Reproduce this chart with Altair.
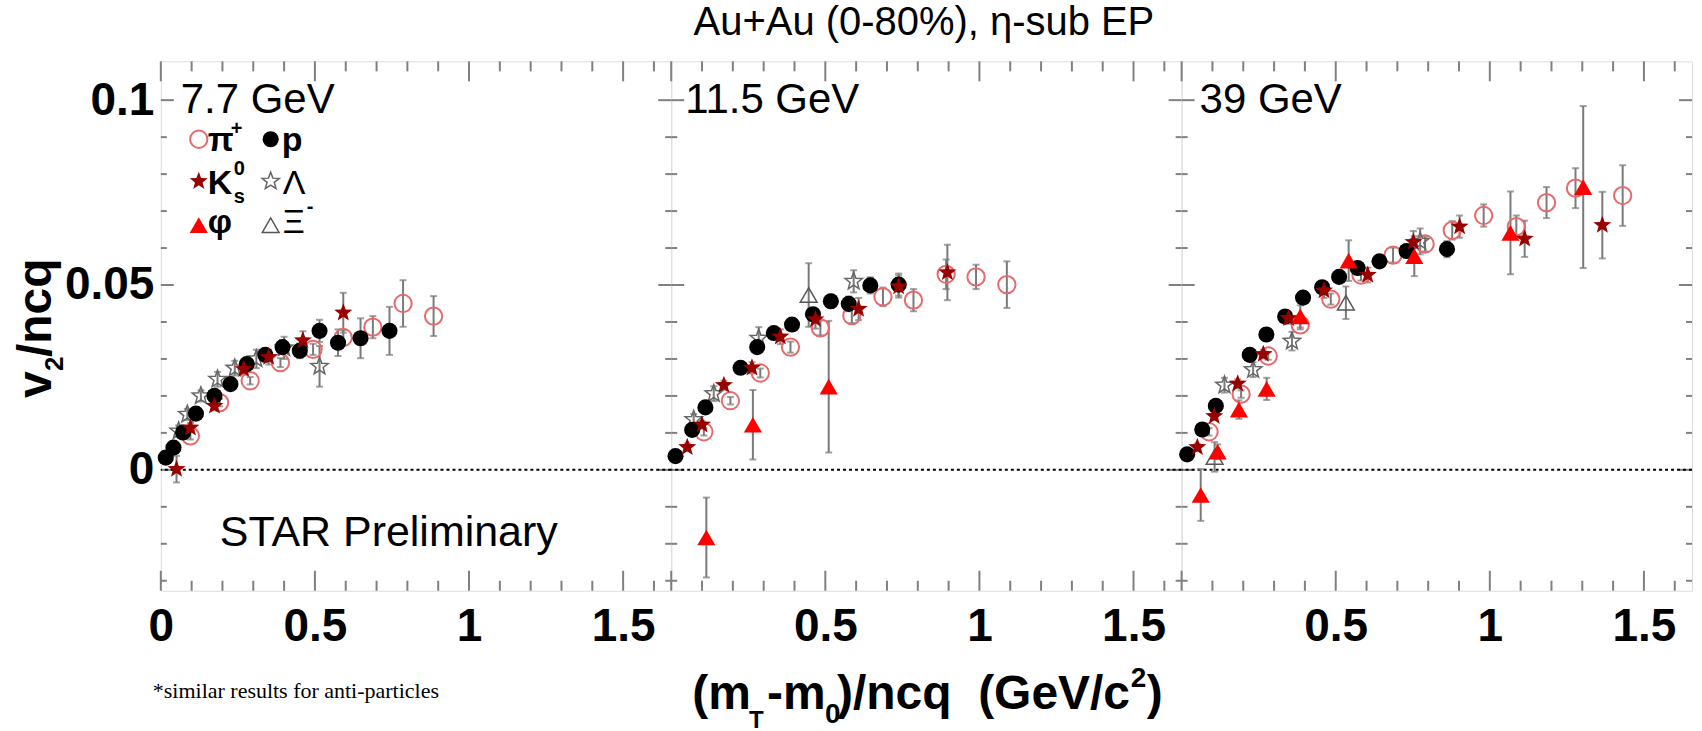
import math
import altair as alt
import pandas as pd

# ---------------------------------------------------------------- layout
W, H = 511, 530                      # plot area of one energy panel
X_DOMAIN = [0.0, 1.656]
Y_DOMAIN = [-0.0327, 0.1105]

X_MAJOR = [0.0, 0.5, 1.0, 1.5]
X_MINOR = [0.1, 0.2, 0.3, 0.4, 0.6, 0.7, 0.8, 0.9, 1.1, 1.2, 1.3, 1.4, 1.6]
Y_MAJOR = [0.0, 0.05, 0.1]
Y_MINOR = [-0.03, -0.02, -0.01, 0.01, 0.02, 0.03, 0.04, 0.06, 0.07, 0.08, 0.09]
X_LABELS_FIRST = [0, 0.5, 1, 1.5]
X_LABELS_OTHER = [0.5, 1, 1.5]
Y_LABELS = [0, 0.05, 0.1]

ENERGIES = ["7.7 GeV", "11.5 GeV", "39 GeV"]
TITLE = "Au+Au (0-80%), η-sub EP"
PRELIM = "STAR Preliminary"
FOOTNOTE = "*similar results for anti-particles"

# ---------------------------------------------------------------- 7.7 GeV
pi_77_x = [0.096, 0.191, 0.290, 0.388, 0.494, 0.592, 0.688, 0.786, 0.885]
pi_77_y = [0.0092, 0.0182, 0.0241, 0.0290, 0.0326, 0.0358, 0.0386, 0.0450, 0.0416]
pi_77_e = [0.001, 0.001, 0.001, 0.0012, 0.0015, 0.002, 0.003, 0.0063, 0.0054]

p_77_x = [0.016, 0.041, 0.072, 0.114, 0.174, 0.226, 0.279, 0.339, 0.395, 0.451, 0.515, 0.575, 0.648, 0.742]
p_77_y = [0.0033, 0.0060, 0.0101, 0.0152, 0.0200, 0.0232, 0.0286, 0.0311, 0.0332, 0.0322, 0.0376, 0.0344, 0.0356, 0.0376]
p_77_e = [0.001, 0.001, 0.001, 0.001, 0.001, 0.001, 0.0012, 0.0015, 0.0018, 0.002, 0.003, 0.0036, 0.0054, 0.0065]

k_77_x = [0.051, 0.096, 0.174, 0.269, 0.350, 0.461, 0.592]
k_77_y = [0.0002, 0.0114, 0.0173, 0.0272, 0.0305, 0.0350, 0.0425]
k_77_e = [0.0036, 0.0012, 0.0012, 0.0015, 0.002, 0.0025, 0.0054]

lam_77_x = [0.058, 0.086, 0.130, 0.184, 0.240, 0.310, 0.400, 0.515]
lam_77_y = [0.0105, 0.0150, 0.0200, 0.0245, 0.0275, 0.0300, 0.0330, 0.0280]
lam_77_e = [0.0015, 0.0015, 0.0015, 0.002, 0.002, 0.0025, 0.003, 0.0055]

# ---------------------------------------------------------------- 11.5 GeV
pi_115_x = [0.106, 0.192, 0.289, 0.387, 0.484, 0.586, 0.687, 0.786, 0.892, 0.989, 1.089]
pi_115_y = [0.0103, 0.0187, 0.0262, 0.0332, 0.0384, 0.0417, 0.0468, 0.0459, 0.0529, 0.0522, 0.0501]
pi_115_e = [0.001, 0.001, 0.0012, 0.0015, 0.002, 0.002, 0.0025, 0.003, 0.004, 0.0033, 0.0063]

p_115_x = [0.014, 0.068, 0.111, 0.225, 0.279, 0.333, 0.392, 0.460, 0.518, 0.576, 0.646, 0.738]
p_115_y = [0.0037, 0.0108, 0.0169, 0.0276, 0.0332, 0.0370, 0.0393, 0.0421, 0.0456, 0.0449, 0.0499, 0.0501]
p_115_e = [0.001, 0.001, 0.001, 0.001, 0.0012, 0.0012, 0.0015, 0.0015, 0.0018, 0.002, 0.0022, 0.003]

k_115_x = [0.052, 0.100, 0.171, 0.262, 0.354, 0.468, 0.608, 0.738, 0.896]
k_115_y = [0.0061, 0.0122, 0.0229, 0.0276, 0.0360, 0.0407, 0.0435, 0.0496, 0.0534]
k_115_e = [0.001, 0.001, 0.0012, 0.0015, 0.002, 0.0025, 0.003, 0.003, 0.0075]

phi_115_x = [0.114, 0.265, 0.511]
phi_115_y = [-0.0183, 0.0122, 0.0225]
phi_115_e = [0.0108, 0.0094, 0.0178]

lam_115_x = [0.073, 0.138, 0.284, 0.592]
lam_115_y = [0.0136, 0.0206, 0.0356, 0.0510]
lam_115_e = [0.0015, 0.002, 0.003, 0.003]

xi_115_x = [0.446]
xi_115_y = [0.0473]
xi_115_e = [0.0086]

# ---------------------------------------------------------------- 39 GeV
pi_39_x = [0.089, 0.193, 0.281, 0.385, 0.484, 0.582, 0.686, 0.790, 0.878, 0.980, 1.086, 1.184, 1.278, 1.431]
pi_39_y = [0.0103, 0.0205, 0.0308, 0.0392, 0.0462, 0.0527, 0.0581, 0.0611, 0.0648, 0.0688, 0.0658, 0.0723, 0.0762, 0.0742]
pi_39_e = [0.001, 0.001, 0.001, 0.0012, 0.0015, 0.0015, 0.002, 0.002, 0.0025, 0.003, 0.003, 0.0042, 0.0054, 0.0082]

p_39_x = [0.018, 0.067, 0.111, 0.221, 0.275, 0.336, 0.394, 0.456, 0.511, 0.571, 0.642, 0.730, 0.861]
p_39_y = [0.0042, 0.0109, 0.0173, 0.0311, 0.0366, 0.0415, 0.0466, 0.0494, 0.0522, 0.0546, 0.0564, 0.0592, 0.0597]
p_39_e = [0.001, 0.001, 0.001, 0.001, 0.001, 0.001, 0.0012, 0.0012, 0.0012, 0.0015, 0.0015, 0.0018, 0.0022]

k_39_x = [0.051, 0.106, 0.182, 0.265, 0.347, 0.462, 0.604, 0.752, 0.902, 1.113, 1.365]
k_39_y = [0.0061, 0.0145, 0.0233, 0.0313, 0.0410, 0.0485, 0.0527, 0.0616, 0.0658, 0.0625, 0.0662]
k_39_e = [0.001, 0.001, 0.0012, 0.0012, 0.0015, 0.002, 0.002, 0.003, 0.003, 0.0049, 0.009]

phi_39_x = [0.062, 0.117, 0.186, 0.276, 0.385, 0.542, 0.755, 1.067, 1.303]
phi_39_y = [-0.0068, 0.0049, 0.0163, 0.0219, 0.0415, 0.0566, 0.0578, 0.0641, 0.0765]
phi_39_e = [0.007, 0.002, 0.0025, 0.003, 0.003, 0.0055, 0.0054, 0.0112, 0.0219]

lam_39_x = [0.139, 0.232, 0.358, 0.774]
lam_39_y = [0.0229, 0.0271, 0.0348, 0.0618]
lam_39_e = [0.002, 0.002, 0.0025, 0.0035]

xi_39_x = [0.107, 0.533]
xi_39_y = [0.0035, 0.0452]
xi_39_e = [0.004, 0.0044]

SERIES = [
    {"pi": (pi_77_x, pi_77_y, pi_77_e), "p": (p_77_x, p_77_y, p_77_e),
     "K": (k_77_x, k_77_y, k_77_e), "Lambda": (lam_77_x, lam_77_y, lam_77_e)},
    {"pi": (pi_115_x, pi_115_y, pi_115_e), "p": (p_115_x, p_115_y, p_115_e),
     "K": (k_115_x, k_115_y, k_115_e), "phi": (phi_115_x, phi_115_y, phi_115_e),
     "Lambda": (lam_115_x, lam_115_y, lam_115_e), "Xi": (xi_115_x, xi_115_y, xi_115_e)},
    {"pi": (pi_39_x, pi_39_y, pi_39_e), "p": (p_39_x, p_39_y, p_39_e),
     "K": (k_39_x, k_39_y, k_39_e), "phi": (phi_39_x, phi_39_y, phi_39_e),
     "Lambda": (lam_39_x, lam_39_y, lam_39_e), "Xi": (xi_39_x, xi_39_y, xi_39_e)},
]

# ---------------------------------------------------------------- styling
FONT = "Liberation Sans"
FRAME = "#8c8c8c"
TICK = "#808080"
ERR = "#7a7a7a"


def star_path(inner=0.42):
    pts = []
    for i in range(10):
        r = 1.0 if i % 2 == 0 else inner
        a = -math.pi / 2 + i * math.pi / 5
        pts.append(f"{r * math.cos(a):.3f},{r * math.sin(a):.3f}")
    return "M" + "L".join(pts) + "Z"


STAR = star_path()
STYLE = {
    "pi": dict(shape="circle", filled=False, color="#e8696b", size=300, strokeWidth=2),
    "Lambda": dict(shape=STAR, filled=False, color="#666666", size=330, strokeWidth=1.5),
    "Xi": dict(shape="triangle-up", filled=False, color="#555555", size=280, strokeWidth=1.5),
    "p": dict(shape="circle", filled=True, color="black", size=260),
    "K": dict(shape=STAR, filled=True, color="#990000", size=360),
    "phi": dict(shape="triangle-up", filled=True, color="#ff0000", size=330),
}
DRAW_ORDER = ["pi", "Lambda", "Xi", "p", "K", "phi"]

XS = alt.Scale(domain=X_DOMAIN, nice=False, zero=False)
YS = alt.Scale(domain=Y_DOMAIN, nice=False, zero=False)

LABEL_STYLE = dict(title=None, grid=False, domain=False, ticks=False, tickSize=0,
                   labelFlush=False, labelOverlap=False, labelFontSize=46,
                   labelFontWeight="bold", labelFont=FONT, labelColor="black",
                   format="~g")


def x_axis(first):
    vals = X_LABELS_FIRST if first else X_LABELS_OTHER
    return alt.Axis(values=vals, labelPadding=14, **LABEL_STYLE)


def y_axis(first):
    if not first:
        return None
    return alt.Axis(values=Y_LABELS, labelPadding=7, **LABEL_STYLE)


def text_layer(s, x, y, size, weight="normal", angle=0, font=FONT, align="left", color="black"):
    return alt.Chart(pd.DataFrame({"t": [s]})).mark_text(
        align=align, baseline="alphabetic", fontSize=size, fontWeight=weight,
        font=font, angle=angle, color=color,
    ).encode(text="t:N", x=alt.value(x), y=alt.value(y))


def marker_layer(name, x, y):
    st = STYLE[name]
    return alt.Chart(pd.DataFrame({"k": [name]})).mark_point(opacity=1, **st).encode(
        x=alt.value(x), y=alt.value(y))


def panel(idx):
    first = idx == 0
    xa, ya = x_axis(first), y_axis(first)
    X = alt.X("x:Q", scale=XS, axis=xa)
    layers = []

    if first:
        # invisible box fixing the overall canvas extent around the panels
        layers.append(alt.Chart(pd.DataFrame({"a": [0]})).mark_rect(opacity=0).encode(
            x=alt.value(-160), x2=alt.value(1542), y=alt.value(-60), y2=alt.value(671)))

    # inward ticks on all four sides
    for vals, ln in ((X_MAJOR, 20), (X_MINOR, 10)):
        base = alt.Chart(pd.DataFrame({"x": vals})).mark_rule(color=TICK, strokeWidth=2)
        layers.append(base.encode(x=X, y=alt.value(H), y2=alt.value(H - ln)))
        layers.append(base.encode(x=X, y=alt.value(0), y2=alt.value(ln)))
    for vals, ln in ((Y_MAJOR, 13), (Y_MINOR, 6)):
        base = alt.Chart(pd.DataFrame({"y": vals})).mark_rule(color=TICK, strokeWidth=2)
        Yt = alt.Y("y:Q", scale=YS, axis=ya)
        layers.append(base.encode(y=Yt, x=alt.value(0), x2=alt.value(ln)))
        layers.append(base.encode(y=Yt, x=alt.value(W), x2=alt.value(W - ln)))

    # zero line
    layers.append(alt.Chart(pd.DataFrame({"y": [0.0]})).mark_rule(
        color="black", strokeWidth=2, strokeDash=[3, 3]).encode(y=alt.Y("y:Q", scale=YS, axis=ya)))

    rows = []
    for name, (xs, ys, es) in SERIES[idx].items():
        for xv, yv, ev in zip(xs, ys, es):
            rows.append({"sp": name, "x": xv, "y": yv, "lo": yv - ev, "hi": yv + ev})
    df = pd.DataFrame(rows)

    # error bars with caps
    layers.append(alt.Chart(df).mark_rule(color=ERR, strokeWidth=2).encode(
        x=X, y=alt.Y("lo:Q", scale=YS, axis=ya), y2="hi:Q"))
    for f in ("lo", "hi"):
        layers.append(alt.Chart(df).mark_tick(orient="horizontal", size=7, thickness=2, color=ERR).encode(
            x=X, y=alt.Y(f"{f}:Q", scale=YS, axis=ya)))

    for name in DRAW_ORDER:
        sub = df[df.sp == name]
        if sub.empty:
            continue
        layers.append(alt.Chart(sub).mark_point(opacity=1, **STYLE[name]).encode(
            x=X, y=alt.Y("y:Q", scale=YS, axis=ya)))

    label_x = [20, 14, 18][idx]
    layers.append(text_layer(ENERGIES[idx], label_x, 52, 42))

    if first:
        layers.append(text_layer(PRELIM, 59, 485, 43))
        layers.append(text_layer(FOOTNOTE, -8, 637, 22, font="Liberation Serif"))
        # y-axis title  v_2/ncq
        layers.append(text_layer("v", -110, 337, 48, "bold", angle=270))
        layers.append(text_layer("2", -98, 310, 26, "bold", angle=270))
        layers.append(text_layer("/ncq", -110, 296, 48, "bold", angle=270))
        # species key
        for name, mx, my in (("pi", 38, 78), ("p", 110, 78), ("K", 38, 120),
                             ("Lambda", 110, 120), ("phi", 38, 164), ("Xi", 110, 164)):
            layers.append(marker_layer(name, mx, my))
        for s, tx, ty, sz, wt in (("π", 47, 90, 34, "bold"), ("+", 70, 74, 20, "bold"),
                                  ("p", 121, 90, 34, "bold"),
                                  ("K", 47, 133, 34, "bold"), ("0", 73, 114, 20, "bold"),
                                  ("s", 73, 142, 20, "bold"), ("Λ", 122, 133, 34, "normal"),
                                  ("φ", 47, 172, 34, "bold"), ("Ξ", 122, 172, 34, "normal"),
                                  ("-", 146, 152, 20, "bold")):
            layers.append(text_layer(s, tx, ty, sz, wt))

    if idx == 1:
        layers.append(text_layer(TITLE, 253, -26, 40, align="center"))
        # x-axis title  (m_T - m_0)/ncq  (GeV/c^2)
        for s, tx, ty, sz in (("(m", 21, 648, 48), ("T", 78, 667, 24), ("-m", 96, 648, 48),
                              ("0", 154, 662, 28), (")/ncq\u00a0\u00a0(GeV/c", 166, 648, 48),
                              ("2", 460, 626, 28), (")", 476, 648, 48)):
            layers.append(text_layer(s, tx, ty, sz, "bold"))

    return alt.layer(*layers).properties(width=W, height=H)


chart = alt.hconcat(panel(0), panel(1), panel(2), spacing=0, bounds="flush").properties(
    padding=0
).configure_view(stroke=FRAME, strokeWidth=2.5).configure(background="white", font=FONT)

chart.save("out.html", embed_options={"renderer": "svg", "actions": False})
